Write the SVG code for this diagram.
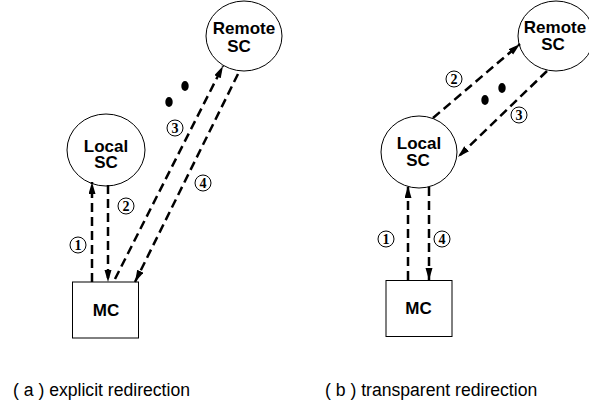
<svg xmlns="http://www.w3.org/2000/svg" width="589" height="402" viewBox="0 0 589 402">
  <style>
    .node { fill: #fff; stroke: #000; stroke-width: 1; }
    .label { font-family: "Liberation Sans", Arial, sans-serif; font-weight: bold; font-size: 17px; text-anchor: middle; fill: #000; }
    .flow { fill: none; stroke: #000; stroke-width: 2.5; stroke-dasharray: 9 5; marker-end: url(#head); }
    .step circle { fill: #fff; stroke: #000; stroke-width: 1; }
    .step text { font-family: "Liberation Serif", "Times New Roman", serif; font-weight: bold; font-size: 14px; text-anchor: middle; fill: #000; }
    .dot { fill: #000; }
    .caption { font-family: "Liberation Sans", Arial, sans-serif; font-size: 17.6px; fill: #000; }
  </style>
  <defs>
    <marker id="head" markerUnits="userSpaceOnUse" markerWidth="13" markerHeight="8" refX="12" refY="3.5" orient="auto">
      <path d="M0,0 L12,3.5 L0,7 z" fill="#000"/>
    </marker>
  </defs>

  <!-- (a) explicit redirection -->
  <g id="a-remote-sc">
    <ellipse class="node" cx="244" cy="36" rx="38" ry="35"/>
    <text class="label"><tspan x="244" y="34">Remote</tspan><tspan x="239" y="52">SC</tspan></text>
  </g>
  <g id="a-local-sc">
    <ellipse class="node" cx="106" cy="150" rx="39" ry="36"/>
    <text class="label"><tspan x="106" y="152">Local</tspan><tspan x="106" y="168">SC</tspan></text>
  </g>
  <g id="a-mc">
    <rect class="node" x="72.5" y="282" width="66" height="56"/>
    <text class="label" x="106" y="316">MC</text>
  </g>

  <!-- (b) transparent redirection -->
  <g id="b-remote-sc">
    <ellipse class="node" cx="556" cy="36" rx="38" ry="35"/>
    <text class="label"><tspan x="555" y="33">Remote</tspan><tspan x="553" y="50">SC</tspan></text>
  </g>
  <g id="b-local-sc">
    <ellipse class="node" cx="419" cy="152" rx="38" ry="36"/>
    <text class="label"><tspan x="419" y="149">Local</tspan><tspan x="418" y="166">SC</tspan></text>
  </g>
  <g id="b-mc">
    <rect class="node" x="386" y="280.5" width="66" height="56"/>
    <text class="label" x="418.5" y="314">MC</text>
  </g>

  <!-- message flows -->
  <g id="connectors">
    <line class="flow" x1="92" y1="282" x2="92" y2="182"/>
    <line class="flow" x1="108" y1="185" x2="108" y2="282"/>
    <line class="flow" x1="115" y1="279" x2="223" y2="66"/>
    <line class="flow" x1="238" y1="74" x2="135" y2="282"/>

    <line class="flow" x1="408" y1="280" x2="408" y2="186"/>
    <line class="flow" x1="429" y1="187" x2="429" y2="280"/>
    <line class="flow" x1="433" y1="118" x2="520" y2="44"/>
    <line class="flow" x1="547" y1="71" x2="458" y2="157"/>
  </g>

  <!-- ellipsis dots between local and remote servers -->
  <g id="dots">
    <ellipse class="dot" cx="185" cy="86" rx="3.7" ry="5"/>
    <ellipse class="dot" cx="169" cy="102" rx="3.7" ry="5"/>
    <ellipse class="dot" cx="502" cy="88" rx="3.7" ry="5"/>
    <ellipse class="dot" cx="485" cy="100" rx="3.7" ry="5"/>
  </g>

  <!-- step numbers -->
  <g id="steps">
    <g class="step"><circle cx="78" cy="245" r="8"/><text x="78" y="249.8">1</text></g>
    <g class="step"><circle cx="126" cy="206" r="8"/><text x="126" y="210.8">2</text></g>
    <g class="step"><circle cx="175" cy="128" r="8"/><text x="175" y="132.8">3</text></g>
    <g class="step"><circle cx="203" cy="183" r="8"/><text x="203" y="187.8">4</text></g>

    <g class="step"><circle cx="386" cy="239" r="8"/><text x="386" y="243.8">1</text></g>
    <g class="step"><circle cx="454" cy="79" r="8"/><text x="454" y="83.8">2</text></g>
    <g class="step"><circle cx="519" cy="115" r="8"/><text x="519" y="119.8">3</text></g>
    <g class="step"><circle cx="442" cy="239" r="8"/><text x="442" y="243.8">4</text></g>
  </g>

  <text class="caption" x="13" y="396">( a ) explicit redirection</text>
  <text class="caption" x="325" y="396">( b ) transparent redirection</text>
</svg>
